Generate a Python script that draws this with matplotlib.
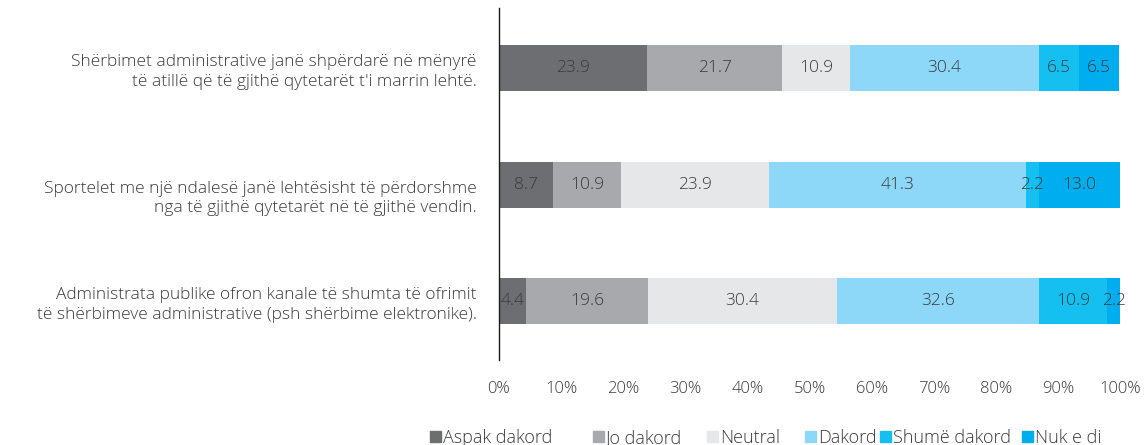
import matplotlib
matplotlib.use("Agg")
import matplotlib.pyplot as plt
from matplotlib.patches import Rectangle
from matplotlib.transforms import ScaledTranslation

categories = [
    "Shërbimet administrative janë shpërdarë në mënyrë\ntë atillë që të gjithë qytetarët t'i marrin lehtë.",
    "Sportelet me një ndalesë janë lehtësisht të përdorshme\nnga të gjithë qytetarët në të gjithë vendin.",
    "Administrata publike ofron kanale të shumta të ofrimit\ntë shërbimeve administrative (psh shërbime elektronike).",
]
series_names = ["Aspak dakord", "Jo dakord", "Neutral", "Dakord", "Shumë dakord", "Nuk e di"]
aspak = [23.9, 8.7, 4.4]
jo = [21.7, 10.9, 19.6]
neutral = [10.9, 23.9, 30.4]
dakord = [30.4, 41.3, 32.6]
shume = [6.5, 2.2, 10.9]
nuk = [6.5, 13.0, 2.2]
series_values = [aspak, jo, neutral, dakord, shume, nuk]
colors = ["#6d6e72", "#a7a9ac", "#e6e7e8", "#8dd8f8", "#15c0f0", "#00aeef"]
xticks = [0, 10, 20, 30, 40, 50, 60, 70, 80, 90, 100]

plt.rcParams["font.family"] = ["Open Sans", "DejaVu Sans"]
plt.rcParams["font.weight"] = "light"
text_color = "#3a3a3a"

fig = plt.figure(figsize=(11.44, 4.45), dpi=100)
ax = fig.add_axes([499 / 1144, 1 - 360 / 445, 621 / 1144, 352 / 445])

ypos = list(range(len(categories)))
left = [0.0] * len(categories)
for name, vals, col in zip(series_names, series_values, colors):
    bars = ax.barh(ypos, vals, left=left, height=0.395, color=col, label=name)
    for b, v in zip(bars, vals):
        ax.text(b.get_x() + b.get_width() / 2, b.get_y() + b.get_height() / 2,
                f"{v:.1f}", ha="center", va="center", fontsize=12.5,
                color=text_color, fontweight="light")
    left = [l + v for l, v in zip(left, vals)]

ax.set_xlim(0, 100)
ax.set_ylim(2.505, -0.515)
ax.set_xticks(xticks)
ax.set_xticklabels([f"{t}%" for t in xticks], fontsize=12, color=text_color,
                   fontweight="light")
ax.set_yticks(ypos)
ax.set_yticklabels(categories, fontsize=12.5, color=text_color, fontweight="light",
                   multialignment="right", linespacing=1.3)
ax.tick_params(axis="both", length=0)
ax.tick_params(axis="x", pad=15)
ax.tick_params(axis="y", pad=16)
for s in ["top", "right", "bottom"]:
    ax.spines[s].set_visible(False)
ax.spines["left"].set_color("#1a1a1a")
ax.spines["left"].set_linewidth(1.0)

# the middle category label sits a little below its bar
mid = ax.get_yticklabels()[1]
mid.set_transform(mid.get_transform() + ScaledTranslation(0, -10 / 100, fig.dpi_scale_trans))

# legend row along the bottom edge
legend_x = [430, 593, 707, 805, 880, 1022]
for name, col, x in zip(series_names, colors, legend_x):
    fig.patches.append(Rectangle((x / 1144, 3 / 445), 11 / 1144, 11 / 445,
                                 transform=fig.transFigure, color=col))
    fig.text((x + 13) / 1144, 7 / 445, name, ha="left", va="center",
             fontsize=13, color=text_color, fontweight="light")

fig.savefig("out.png", dpi=100)
